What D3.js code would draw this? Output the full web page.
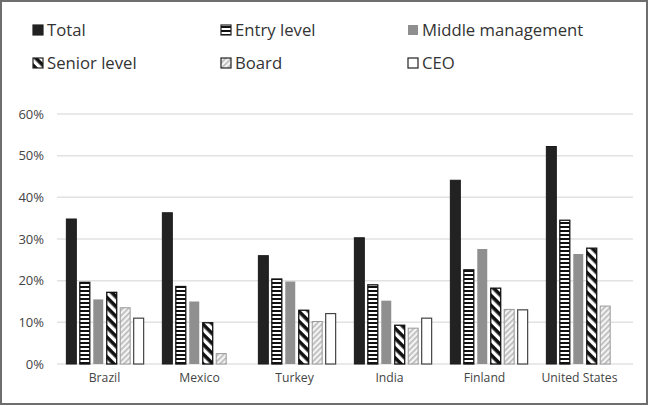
<!DOCTYPE html>
<html>
<head>
<meta charset="utf-8">
<script src="https://cdn.jsdelivr.net/npm/d3@7"></script>
<style>
  html, body { margin: 0; padding: 0; background: #fff; }
  svg { display: block; }
  text { font-family: "Open Sans", "Noto Sans", sans-serif; }
</style>
</head>
<body>
<svg id="chart" width="650" height="406"></svg>
<script>
const countries = ["Brazil", "Mexico", "Turkey", "India", "Finland", "United States"];
const seriesNames = ["Total", "Entry level", "Middle management", "Senior level", "Board", "CEO"];
const total       = [0.348, 0.363, 0.260, 0.303, 0.441, 0.522];
const entryLevel  = [0.196, 0.186, 0.204, 0.190, 0.226, 0.345];
const middleMgmt  = [0.155, 0.150, 0.198, 0.152, 0.276, 0.264];
const seniorLevel = [0.172, 0.099, 0.129, 0.093, 0.182, 0.278];
const board       = [0.135, 0.025, 0.102, 0.086, 0.131, 0.139];
const ceo         = [0.110, 0,     0.121, 0.110, 0.130, 0];
const yTicks = [0, 0.1, 0.2, 0.3, 0.4, 0.5, 0.6];

const seriesValues = [total, entryLevel, middleMgmt, seniorLevel, board, ceo];

const svg = d3.select("#chart");
const defs = svg.append("defs");

// Patterns
const pEntry = defs.append("pattern").attr("id", "pEntry").attr("patternUnits", "userSpaceOnUse")
  .attr("width", 4).attr("height", 4);
pEntry.append("rect").attr("width", 4).attr("height", 4).attr("fill", "#fff");
pEntry.append("rect").attr("y", 2).attr("width", 4).attr("height", 2).attr("fill", "#111");

const pSenior = defs.append("pattern").attr("id", "pSenior").attr("patternUnits", "userSpaceOnUse")
  .attr("width", 7).attr("height", 7).attr("patternTransform", "rotate(45)");
pSenior.append("rect").attr("width", 7).attr("height", 7).attr("fill", "#fff");
pSenior.append("rect").attr("width", 7).attr("height", 3.6).attr("fill", "#111");

const pBoard = defs.append("pattern").attr("id", "pBoard").attr("patternUnits", "userSpaceOnUse")
  .attr("width", 4).attr("height", 4).attr("patternTransform", "rotate(-45)");
pBoard.append("rect").attr("width", 4).attr("height", 4).attr("fill", "#f4f4f4");
pBoard.append("rect").attr("width", 4).attr("height", 1.6).attr("fill", "#b8b8b8");

const styles = [
  { fill: "#222", stroke: "#1a1a1a", sw: 1 },
  { fill: "url(#pEntry)", stroke: "#111", sw: 1.3 },
  { fill: "#8f8f8f", stroke: "none", sw: 0 },
  { fill: "url(#pSenior)", stroke: "#111", sw: 1.3 },
  { fill: "url(#pBoard)", stroke: "#999", sw: 1 },
  { fill: "#fff", stroke: "#444", sw: 1.2 }
];

// Border
svg.append("rect").attr("x", 1).attr("y", 1).attr("width", 646).attr("height", 403)
  .attr("fill", "none").attr("stroke", "#6e6e6e").attr("stroke-width", 2);

// Scales
const x = d3.scaleBand().domain(countries).range([57, 633]).paddingInner(0.195).paddingOuter(0.0975);
const xLabel = d3.scaleBand().domain(countries).range([57, 627]);
const xs = d3.scaleBand().domain(seriesNames).range([0, x.bandwidth()]).paddingInner(0.26);
const y = d3.scaleLinear().domain([0, 0.6]).range([364, 114]);

// Gridlines
svg.append("g").selectAll("line").data(yTicks).join("line")
  .attr("x1", 57).attr("x2", 633)
  .attr("y1", d => y(d)).attr("y2", d => y(d))
  .attr("stroke", "#e2e2e2").attr("stroke-width", 1.5);

// Y axis labels
const yAxis = svg.append("g").attr("transform", "translate(44,0)")
  .call(d3.axisLeft(y).tickValues(yTicks).tickFormat(d3.format(".0%")).tickSize(0).tickPadding(0));
yAxis.select(".domain").remove();
yAxis.selectAll("text").attr("font-size", 13).attr("fill", "#444")
  .attr("font-family", "\"Open Sans\", sans-serif");

// X axis labels
const xAxis = svg.append("g").attr("transform", "translate(0,370)")
  .call(d3.axisBottom(xLabel).tickSize(0).tickPadding(0));
xAxis.select(".domain").remove();
xAxis.selectAll("text").attr("font-size", 12.2).attr("fill", "#444").attr("dy", "0.95em")
  .attr("font-family", "\"Open Sans\", sans-serif");

// Bars
const data = [];
countries.forEach((c, i) => {
  seriesNames.forEach((s, j) => {
    data.push({ country: c, series: s, si: j, value: seriesValues[j][i] });
  });
});

svg.append("g").selectAll("rect").data(data.filter(d => d.value > 0)).join("rect")
  .attr("x", d => x(d.country) + xs(d.series))
  .attr("y", d => y(d.value))
  .attr("width", xs.bandwidth())
  .attr("height", d => y(0) - y(d.value))
  .attr("fill", d => styles[d.si].fill)
  .attr("stroke", d => styles[d.si].stroke)
  .attr("stroke-width", d => styles[d.si].sw);

// Legend
const legendCols = [33, 221, 408];
const legendRows = [25, 58];
const legend = svg.append("g");
seriesNames.forEach((s, j) => {
  const lx = legendCols[j % 3];
  const ly = legendRows[Math.floor(j / 3)];
  const st = styles[j];
  legend.append("rect").attr("x", lx).attr("y", ly).attr("width", 10).attr("height", 10)
    .attr("fill", st.fill).attr("stroke", st.stroke === "none" ? "none" : "#222")
    .attr("stroke-width", st.sw ? 1.2 : 0);
  legend.append("text").attr("x", lx + 14).attr("y", ly + 11)
    .attr("font-size", 16.7).attr("fill", "#333").text(s);
});
</script>
</body>
</html>
